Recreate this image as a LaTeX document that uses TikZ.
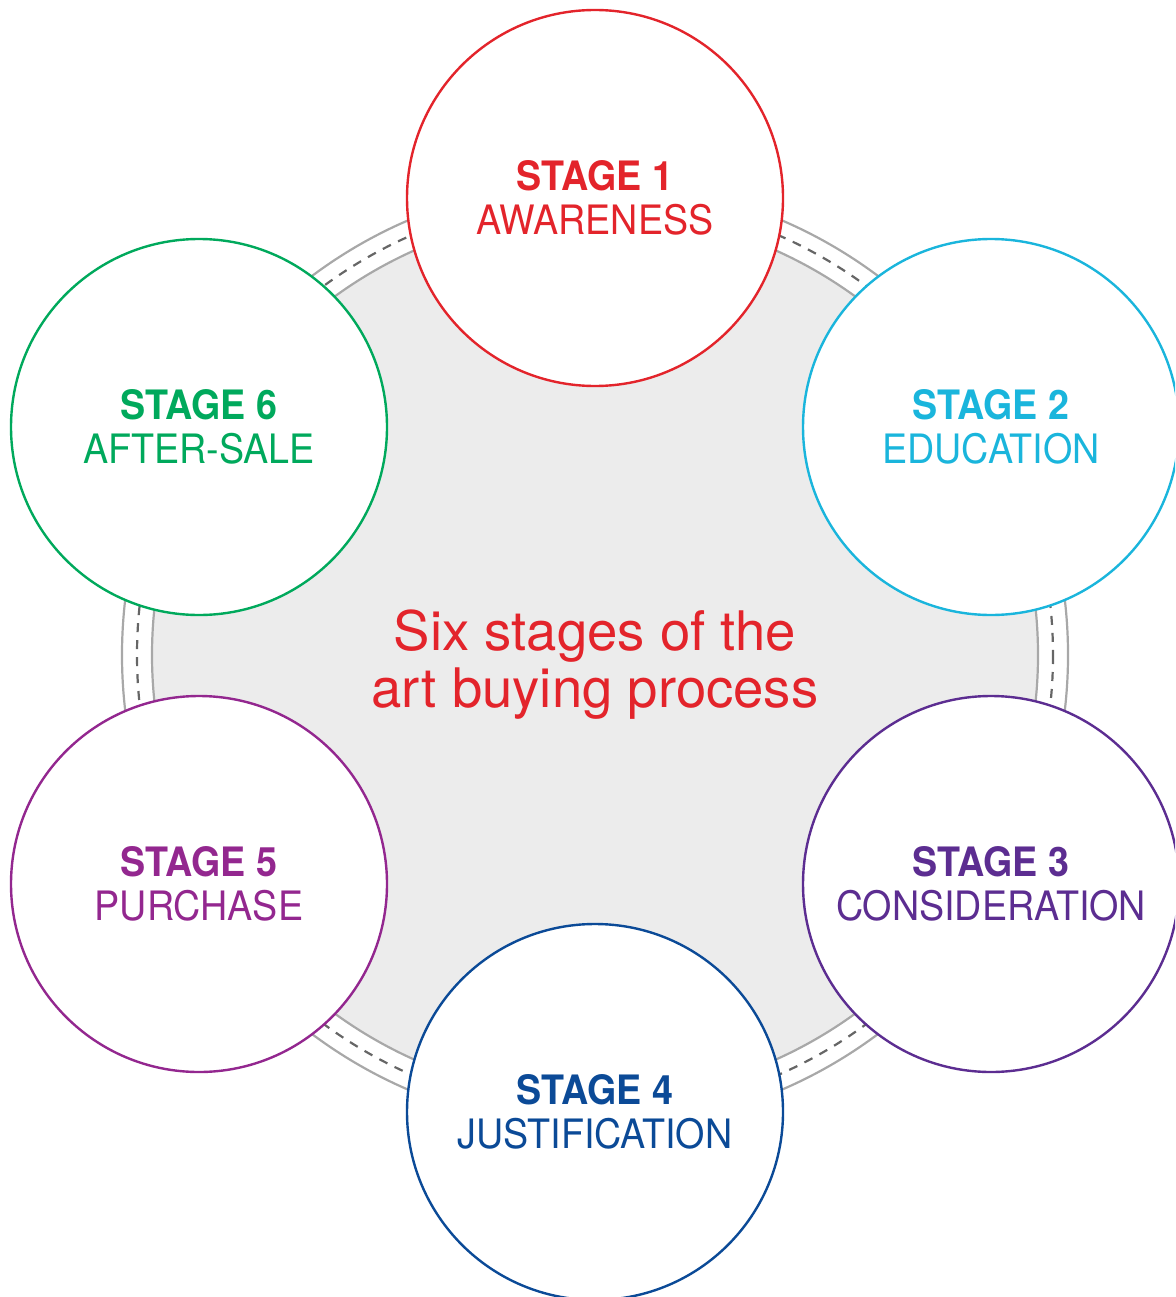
\documentclass[tikz,border=0pt]{standalone}
\usepackage{fontspec}
\setmainfont{TeX Gyre Heros}
\newfontfamily\stagefont[FakeStretch=0.93]{TeX Gyre Heros}
\definecolor{cred}{HTML}{E3242B}
\definecolor{ccyan}{HTML}{1AB5DC}
\definecolor{cpurple}{HTML}{5C2D91}
\definecolor{cblue}{HTML}{0B4A97}
\definecolor{cmagenta}{HTML}{93278F}
\definecolor{cgreen}{HTML}{00A95C}
\definecolor{ringfill}{HTML}{ECECEC}
\definecolor{ringgray}{HTML}{A8A8A8}
\definecolor{dashgray}{HTML}{666666}
\begin{document}
\begin{tikzpicture}[x=1pt,y=-1pt,
  stagecircle/.style={circle, minimum size=376pt, inner sep=0pt, fill=white, line width=2.4pt,
    align=center, font=\stagefont\fontsize{40.5}{44}\selectfont},
  ringline/.style={draw=ringgray, line width=2.2pt},
  ringdash/.style={draw=dashgray, line width=2.2pt, dash pattern=on 9pt off 8pt},
  centertext/.style={text=cred, align=center, font=\fontsize{54.5}{57}\selectfont}]
\useasboundingbox (0,0) rectangle (1175,1297);
\clip (0,0) rectangle (1175,1297);
\coordinate (c) at (595,655);
\fill[ringfill] (c) circle (443);
\draw[ringline] (c) circle (473);
\draw[ringline] (c) circle (443);
\draw[ringdash] (c) circle (458);
\node[stagecircle, draw=cred, text=cred] (s1) at (595,198) {\textbf{STAGE 1}\\AWARENESS};
\node[stagecircle, draw=ccyan, text=ccyan] (s2) at (991,427) {\textbf{STAGE 2}\\EDUCATION};
\node[stagecircle, draw=cpurple, text=cpurple] (s3) at (991,884) {\textbf{STAGE 3}\\CONSIDERATION};
\node[stagecircle, draw=cblue, text=cblue] (s4) at (595,1112) {\textbf{STAGE 4}\\JUSTIFICATION};
\node[stagecircle, draw=cmagenta, text=cmagenta] (s5) at (199,884) {\textbf{STAGE 5}\\PURCHASE};
\node[stagecircle, draw=cgreen, text=cgreen] (s6) at (199,427) {\textbf{STAGE 6}\\AFTER-SALE};
\node[centertext] (title) at (595,665) {Six stages of the\\art buying process};
\end{tikzpicture}
\end{document}
